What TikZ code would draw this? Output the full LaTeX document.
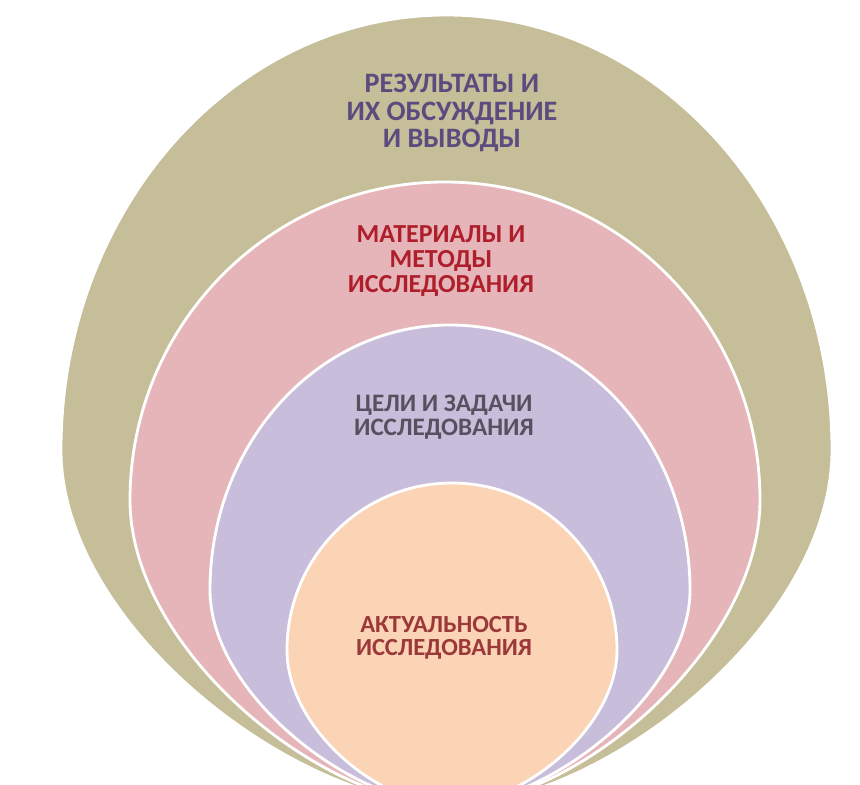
\documentclass[tikz,border=0pt]{standalone}
\usepackage{fontspec}
\setmainfont{Carlito}
\definecolor{cGreen}{HTML}{C5BE99}
\definecolor{cPink}{HTML}{E6B5B9}
\definecolor{cPurple}{HTML}{C8BEDB}
\definecolor{cOrange}{HTML}{FBD3B5}
\definecolor{tResults}{HTML}{5B4B7E}
\definecolor{tMaterials}{HTML}{AE1F2B}
\definecolor{tGoals}{HTML}{57515F}
\definecolor{tActual}{HTML}{9B383A}
\tikzset{
  layer/.style={draw=white, line width=1.6pt},
  lbl/.style={align=center, font=\bfseries\fontsize{14}{15}\selectfont, inner sep=0pt}
}
\begin{document}
\begin{tikzpicture}[x=0.02cm,y=-0.02cm]
\path[use as bounding box, fill=white] (0,0) rectangle (860,785);
\begin{scope}
\clip (0,0) rectangle (860,785);
% outer (green)
\path[layer, fill=cGreen] (61,450) .. controls (61,209.8) and (233.6,15) .. (446.5,15)
  .. controls (659.4,15) and (832,209.8) .. (832,450)
  .. controls (832,625) and (602.8,805) .. (450,805)
  .. controls (294.4,805) and (61,625) .. (61,450) -- cycle;
% pink
\path[layer, fill=cPink] (130,500) .. controls (130,324.4) and (271,182) .. (445,182)
  .. controls (619,182) and (760,324.4) .. (760,500)
  .. controls (760,650) and (574,805) .. (450,805)
  .. controls (322,805) and (130,650) .. (130,500) -- cycle;
% purple
\path[layer, fill=cPurple] (210,590) .. controls (210,443.6) and (317.4,325) .. (450,325)
  .. controls (582.6,325) and (690,443.6) .. (690,590)
  .. controls (690,695) and (546,805) .. (450,805)
  .. controls (354,805) and (210,695) .. (210,590) -- cycle;
% orange
\path[layer, fill=cOrange] (287,650) .. controls (287,557.8) and (360.9,483) .. (452,483)
  .. controls (543.1,483) and (617,557.8) .. (617,650)
  .. controls (617,728) and (522,805) .. (450,805)
  .. controls (378,805) and (287,728) .. (287,650) -- cycle;
\end{scope}
\node[lbl, text=tResults, font=\bfseries\fontsize{16}{15.6}\selectfont] (results) at (452,113) {РЕЗУЛЬТАТЫ И\\ИХ ОБСУЖДЕНИЕ\\И ВЫВОДЫ};
\node[lbl, text=tMaterials, font=\bfseries\fontsize{14.8}{14}\selectfont] (materials) at (441,261) {МАТЕРИАЛЫ И\\МЕТОДЫ\\ИССЛЕДОВАНИЯ};
\node[lbl, text=tGoals, font=\bfseries\fontsize{14.3}{13.6}\selectfont] (goals) at (444,417) {ЦЕЛИ И ЗАДАЧИ\\ИССЛЕДОВАНИЯ};
\node[lbl, text=tActual, font=\bfseries\fontsize{14}{13.2}\selectfont] (actual) at (444,638) {АКТУАЛЬНОСТЬ\\ИССЛЕДОВАНИЯ};
\end{tikzpicture}
\end{document}
